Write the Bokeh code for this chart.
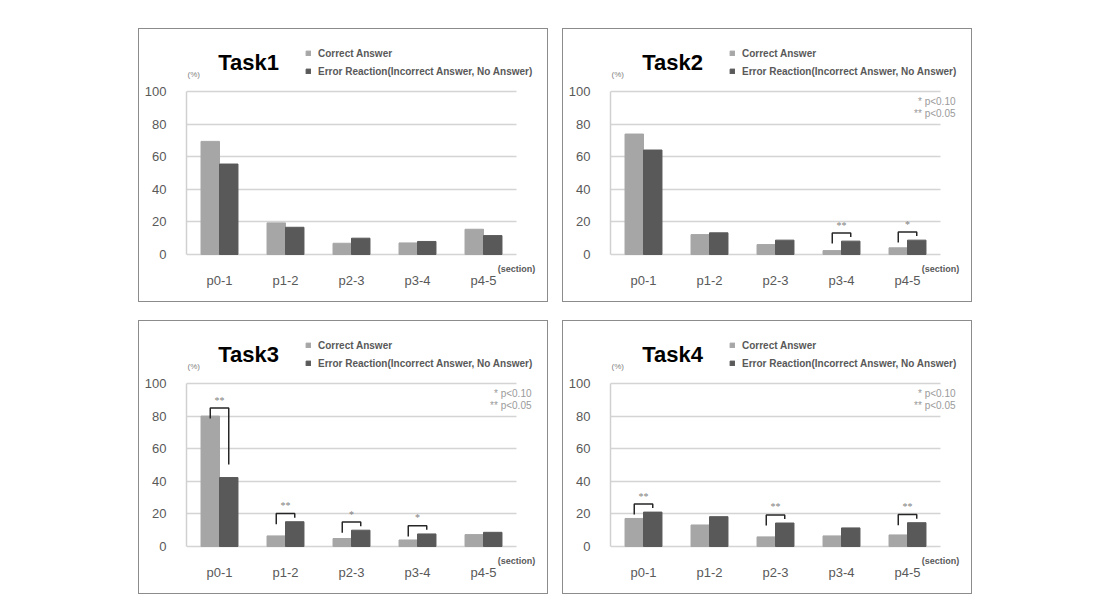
from bokeh.plotting import figure
from bokeh.models import (Range1d, FixedTicker, Legend, LegendItem, Label, Spacer,
                          ColumnDataSource, LinearAxis)
from bokeh.layouts import row, column
from bokeh.embed import file_html
from bokeh.resources import INLINE

# ---------------- data ----------------
categories = ["p0-1", "p1-2", "p2-3", "p3-4", "p4-5"]
task_names = ["Task1", "Task2", "Task3", "Task4"]
series_labels = ["Correct Answer", "Error Reaction(Incorrect Answer, No Answer)"]

task1_correct = [69.4, 19.4, 6.9, 7.1, 15.5]
task1_error = [55.5, 16.7, 10.0, 8.0, 11.6]
task2_correct = [73.9, 12.2, 6.1, 2.4, 4.1]
task2_error = [64.1, 13.3, 8.8, 8.2, 8.8]
task3_correct = [80.0, 6.5, 4.9, 4.0, 7.3]
task3_error = [42.3, 15.2, 10.0, 7.7, 8.7]
task4_correct = [17.2, 13.2, 5.9, 6.5, 7.1]
task4_error = [21.1, 18.3, 14.4, 11.4, 14.6]

task1_sig = []
task2_sig = [("p3-4", "**"), ("p4-5", "*")]
task3_sig = [("p0-1", "**"), ("p1-2", "**"), ("p2-3", "*"), ("p3-4", "*")]
task4_sig = [("p0-1", "**"), ("p2-3", "**"), ("p4-5", "**")]

y_ticks = [0, 20, 40, 60, 80, 100]
p_notes = ["* p<0.10", "** p<0.05"]
unit_label = "(%)"
axis_label = "(section)"

tasks = [
    (task_names[0], task1_correct, task1_error, task1_sig, False),
    (task_names[1], task2_correct, task2_error, task2_sig, True),
    (task_names[2], task3_correct, task3_error, task3_sig, True),
    (task_names[3], task4_correct, task4_error, task4_sig, True),
]

# ---------------- style / geometry ----------------
FONT = "Liberation Sans"
C_LIGHT = "#a6a6a6"
C_DARK = "#595959"
TXT = "#595959"
W, H = 410, 274
B_LEFT, B_BOTTOM = 47, 46
FRAME_W = W - B_LEFT
FRAME_H = H - B_BOTTOM
PX_X = 66.0      # pixels per category
PX_Y = 1.63      # pixels per percent
Y0 = -3.0 / PX_Y
BAR_W = 0.28


def make_panel(name, correct, error, sig, show_note):
    n = len(categories)
    p = figure(width=W, height=H,
               x_range=Range1d(0, FRAME_W / PX_X),
               y_range=Range1d(Y0, Y0 + FRAME_H / PX_Y),
               output_backend="svg", toolbar_location=None,
               x_axis_location=None,
               min_border_left=B_LEFT, min_border_right=0, min_border_top=0,
               min_border_bottom=B_BOTTOM,
               styles={"border": "1px solid #8c8c8c"})
    p.outline_line_color = None
    p.background_fill_color = "white"
    p.border_fill_color = "white"

    xc = [i + 0.5 for i in range(n)]
    src = ColumnDataSource(dict(xa=[x - BAR_W / 2 for x in xc],
                                xb=[x + BAR_W / 2 for x in xc],
                                c=correct, e=error))

    # grid (also acts as the baseline at 0)
    p.xgrid.visible = False
    p.ygrid.ticker = FixedTicker(ticks=y_ticks)
    p.ygrid.cross_bounds = (0, n)
    p.ygrid.grid_line_color = "#d4d4d4"
    p.ygrid.grid_line_width = 1.5

    r1 = p.vbar(x="xa", top="c", width=BAR_W, source=src, fill_color=C_LIGHT,
                line_color=C_LIGHT)
    r2 = p.vbar(x="xb", top="e", width=BAR_W, source=src, fill_color=C_DARK,
                line_color=C_DARK)

    # significance brackets
    xs, ys, tx, ty, tt = [], [], [], [], []
    for cat, stars in sig:
        i = categories.index(cat)
        c, e = correct[i], error[i]
        top = max(c, e) + 5
        x0 = xc[i] - BAR_W / 2
        x1 = xc[i] + BAR_W / 2
        xs.append([x0, x0, x1, x1])
        ys.append([top - 6.5, top, top, min(top - 2.5, e + 8)])
        tx.append((x0 + x1) / 2)
        ty.append(top + 1.5)
        tt.append(stars)
    if xs:
        p.multi_line(xs=xs, ys=ys, line_color="#262626", line_width=1.5)
        p.text(x=tx, y=ty, text=tt, text_align="center", text_baseline="bottom",
               text_font_size="10px", text_color="#7f7f7f", text_font=FONT)

    # y axis
    p.yaxis.ticker = FixedTicker(ticks=y_ticks)
    p.yaxis.bounds = (0, 100)
    p.yaxis.major_tick_line_color = None
    p.yaxis.minor_tick_line_color = None
    p.yaxis.axis_line_color = "#d0d0d0"
    p.yaxis.axis_line_width = 1.5
    p.yaxis.major_label_text_font_size = "13px"
    p.yaxis.major_label_text_color = TXT
    p.yaxis.major_label_text_font = FONT
    p.yaxis.major_label_standoff = 14

    # x axes: "(section)" unit label nearest to the frame, categories below it
    sec_axis = LinearAxis(ticker=FixedTicker(ticks=[n]),
                          major_label_overrides={n: axis_label})
    sec_axis.axis_line_color = None
    sec_axis.major_tick_line_color = None
    sec_axis.minor_tick_line_color = None
    sec_axis.major_label_standoff = 0
    sec_axis.major_label_text_font_size = "9px"
    sec_axis.major_label_text_font_style = "bold"
    sec_axis.major_label_text_color = TXT
    sec_axis.major_label_text_font = FONT
    p.add_layout(sec_axis, "below")

    cat_axis = LinearAxis(ticker=FixedTicker(ticks=xc),
                          major_label_overrides={x: c for x, c in zip(xc, categories)})
    cat_axis.axis_line_color = None
    cat_axis.major_tick_line_color = None
    cat_axis.minor_tick_line_color = None
    cat_axis.major_label_standoff = -10
    cat_axis.major_label_text_font_size = "13px"
    cat_axis.major_label_text_color = TXT
    cat_axis.major_label_text_font = FONT
    p.add_layout(cat_axis, "below")

    # legend above the plotting area
    legend = Legend(items=[LegendItem(label=series_labels[0], renderers=[r1]),
                           LegendItem(label=series_labels[1], renderers=[r2])],
                    location=(119, 180), padding=0, margin=0, spacing=6,
                    glyph_width=6, glyph_height=6, label_height=12, label_standoff=7,
                    border_line_color=None, background_fill_alpha=0,
                    label_text_font_size="10px", label_text_font_style="bold",
                    label_text_color=TXT, label_text_font=FONT)
    p.add_layout(legend)

    p.add_layout(Label(x=62, y=195, x_units="screen", y_units="screen",
                       text=name, text_font=FONT, text_font_size="22px",
                       text_font_style="bold", text_color="black",
                       text_align="center", text_baseline="middle"))
    p.add_layout(Label(x=1, y=183, x_units="screen", y_units="screen",
                       text=unit_label, text_font=FONT, text_font_size="8px",
                       text_color="#7f7f7f", text_align="left",
                       text_baseline="middle"))
    if show_note:
        for k, note in enumerate(p_notes):
            p.add_layout(Label(x=345, y=156 - 12 * k, x_units="screen",
                               y_units="screen", text=note, text_font=FONT,
                               text_font_size="10px", text_color="#9a9a9a",
                               text_align="right", text_baseline="middle"))
    return p


panels = [make_panel(*t) for t in tasks]

layout = column(
    Spacer(height=28),
    row(Spacer(width=138), panels[0], Spacer(width=14), panels[1]),
    Spacer(height=18),
    row(Spacer(width=138), panels[2], Spacer(width=14), panels[3]),
)

open("out.html", "w").write(file_html(layout, INLINE))
